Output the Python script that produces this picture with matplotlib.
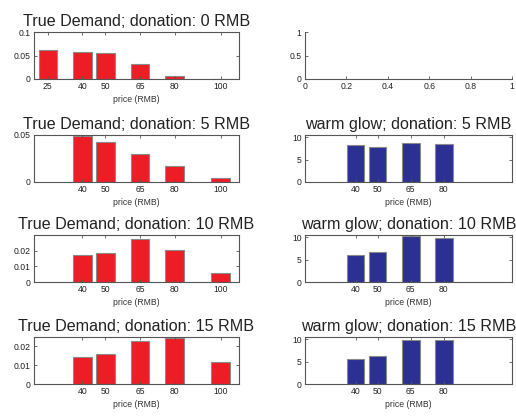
import matplotlib
matplotlib.use("Agg")
import matplotlib.pyplot as plt

plt.rcParams['font.family'] = ['Liberation Sans', 'DejaVu Sans']

prices = [25, 40, 50, 65, 80, 100]
donations = [0, 5, 10, 15]

# share of demand per price, one list per donation level (None = no bar)
demand_0 = [0.061, 0.058, 0.055, 0.032, 0.007, 0.0]
demand_5 = [None, 0.0486, 0.0426, 0.030, 0.0167, 0.0044]
demand_10 = [None, 0.0173, 0.0186, 0.0275, 0.0204, 0.0059]
demand_15 = [None, 0.0143, 0.0162, 0.0231, 0.0244, 0.0115]

glow_prices = [40, 50, 65, 80]
glow_5 = [8.2, 7.8, 8.8, 8.5]
glow_10 = [6.1, 6.8, 10.2, 9.8]
glow_15 = [5.6, 6.2, 9.9, 9.9]

demand = [demand_0, demand_5, demand_10, demand_15]
glow = [None, glow_5, glow_10, glow_15]
demand_ylim = [0.1, 0.05, 0.03, 0.025]
demand_yticks = [[0, 0.05, 0.1], [0, 0.05], [0, 0.01, 0.02], [0, 0.01, 0.02]]

RED = '#ee1c24'
BLUE = '#2b3092'
EDGE = '#8a8a8a'
AX = '#555555'
TICK_FS = 6.2
TITLE_FS = 11.6

fig = plt.figure(figsize=(5.16, 4.17), dpi=100)
W, H = 516.0, 417.0
tops = [32, 135, 235, 337]
ah = 47


def style(ax):
    for s in ax.spines.values():
        s.set_color(AX)
        s.set_linewidth(0.8)
    ax.tick_params(direction='in', length=2.5, width=0.6, color=AX,
                   labelsize=TICK_FS, labelcolor='#222222', pad=2.5,
                   top=True, right=True)


for i, d in enumerate(donations):
    # left column: true demand
    ax = fig.add_axes([34 / W, 1 - (tops[i] + ah) / H, 205 / W, ah / H])
    xs = [p for p, v in zip(prices, demand[i]) if v is not None]
    ys = [v for v in demand[i] if v is not None]
    ax.bar(xs, ys, width=8, color=RED, edgecolor=EDGE, linewidth=0.8)
    ax.set_xlim(19, 108)
    ax.set_ylim(0, demand_ylim[i])
    ax.set_yticks(demand_yticks[i])
    ax.set_yticklabels([('%g' % t) for t in demand_yticks[i]])
    ax.set_xticks(xs)
    ax.set_xlabel('price (RMB)', fontsize=TICK_FS, color='#333333', labelpad=2.5)
    ax.set_title('True Demand; donation: %d RMB' % d, fontsize=TITLE_FS,
                 pad=4, color='#222222')
    style(ax)

    # right column: warm glow
    ax = fig.add_axes([305 / W, 1 - (tops[i] + ah) / H, 207 / W, ah / H])
    if glow[i] is None:
        ax.set_xlim(0, 1)
        ax.set_ylim(0, 1)
        ax.set_xticks([0, 0.2, 0.4, 0.6, 0.8, 1])
        ax.set_xticklabels(['0', '0.2', '0.4', '0.6', '0.8', '1'])
        ax.set_yticks([0, 0.5, 1])
        ax.set_yticklabels(['0', '0.5', '1'])
        style(ax)
        ax.spines['top'].set_visible(False)
        ax.spines['right'].set_visible(False)
        ax.tick_params(top=False, right=False)
        continue
    ax.bar(glow_prices, glow[i], width=8, color=BLUE, edgecolor=EDGE,
           linewidth=0.8)
    ax.set_xlim(17, 111)
    ax.set_ylim(0, 10.5)
    ax.set_yticks([0, 5, 10])
    ax.set_xticks(glow_prices)
    ax.set_xlabel('price (RMB)', fontsize=TICK_FS, color='#333333', labelpad=2.5)
    ax.set_title('warm glow; donation: %d RMB' % d, fontsize=TITLE_FS,
                 pad=4, color='#222222')
    style(ax)

fig.savefig('out.png', dpi=100)
